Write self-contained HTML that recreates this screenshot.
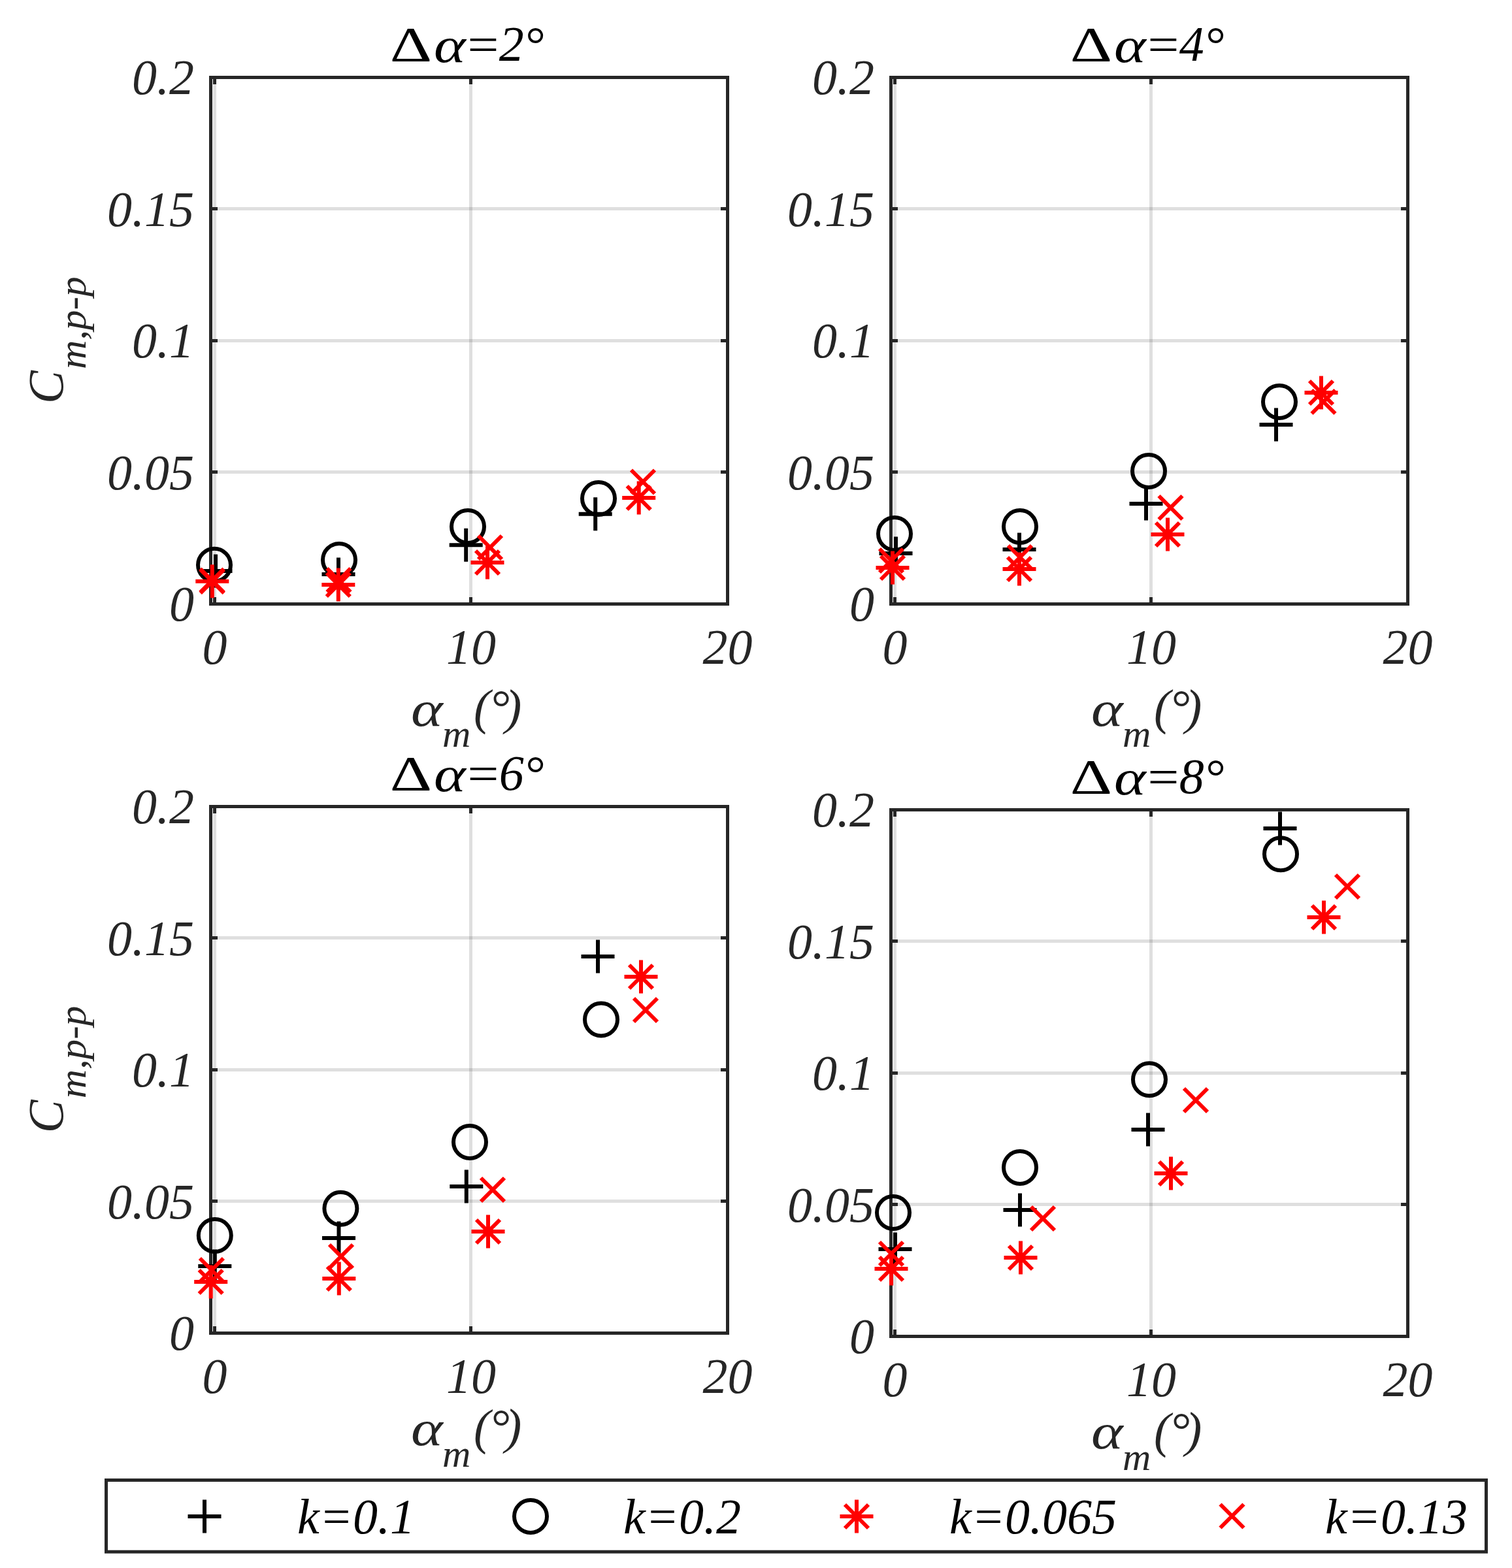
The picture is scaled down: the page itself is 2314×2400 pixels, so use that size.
<!DOCTYPE html><html><head><meta charset="utf-8"><title>Cm,p-p vs alpha_m</title><style>html,body{margin:0;padding:0;background:#fff;}svg{display:block;}</style></head><body><svg width="2314" height="2400" viewBox="0 0 2314 2400"><rect width="2314" height="2400" fill="#fff"/><g stroke="#262626" stroke-opacity="0.15" stroke-width="5"><line x1="328.5" y1="118.5" x2="328.5" y2="924.5"/><line x1="720.5" y1="118.5" x2="720.5" y2="924.5"/><line x1="322.5" y1="722.5" x2="1113.5" y2="722.5"/><line x1="322.5" y1="521.5" x2="1113.5" y2="521.5"/><line x1="322.5" y1="319.5" x2="1113.5" y2="319.5"/></g><path d="M328.5 924.5V914M328.5 118.5V129M720.5 924.5V914M720.5 118.5V129M322.5 722.5H333M1113.5 722.5H1103M322.5 521.5H333M1113.5 521.5H1103M322.5 319.5H333M1113.5 319.5H1103" stroke="#262626" stroke-width="5" fill="none"/><rect x="322.5" y="118.5" width="791" height="806" stroke="#262626" stroke-width="5" fill="none" stroke-linejoin="miter"/><g stroke="#262626" stroke-opacity="0.15" stroke-width="5"><line x1="1369.5" y1="118.5" x2="1369.5" y2="924.5"/><line x1="1761.5" y1="118.5" x2="1761.5" y2="924.5"/><line x1="1363.5" y1="722.5" x2="2154.5" y2="722.5"/><line x1="1363.5" y1="521.5" x2="2154.5" y2="521.5"/><line x1="1363.5" y1="319.5" x2="2154.5" y2="319.5"/></g><path d="M1369.5 924.5V914M1369.5 118.5V129M1761.5 924.5V914M1761.5 118.5V129M1363.5 722.5H1374M2154.5 722.5H2144M1363.5 521.5H1374M2154.5 521.5H2144M1363.5 319.5H1374M2154.5 319.5H2144" stroke="#262626" stroke-width="5" fill="none"/><rect x="1363.5" y="118.5" width="791" height="806" stroke="#262626" stroke-width="5" fill="none" stroke-linejoin="miter"/><g stroke="#262626" stroke-opacity="0.15" stroke-width="5"><line x1="328.5" y1="1234.5" x2="328.5" y2="2040.5"/><line x1="720.5" y1="1234.5" x2="720.5" y2="2040.5"/><line x1="322.5" y1="1838.5" x2="1113.5" y2="1838.5"/><line x1="322.5" y1="1637.5" x2="1113.5" y2="1637.5"/><line x1="322.5" y1="1435.5" x2="1113.5" y2="1435.5"/></g><path d="M328.5 2040.5V2030M328.5 1234.5V1245M720.5 2040.5V2030M720.5 1234.5V1245M322.5 1838.5H333M1113.5 1838.5H1103M322.5 1637.5H333M1113.5 1637.5H1103M322.5 1435.5H333M1113.5 1435.5H1103" stroke="#262626" stroke-width="5" fill="none"/><rect x="322.5" y="1234.5" width="791" height="806" stroke="#262626" stroke-width="5" fill="none" stroke-linejoin="miter"/><g stroke="#262626" stroke-opacity="0.15" stroke-width="5"><line x1="1369.5" y1="1239.5" x2="1369.5" y2="2045.5"/><line x1="1761.5" y1="1239.5" x2="1761.5" y2="2045.5"/><line x1="1363.5" y1="1843.5" x2="2154.5" y2="1843.5"/><line x1="1363.5" y1="1642.5" x2="2154.5" y2="1642.5"/><line x1="1363.5" y1="1440.5" x2="2154.5" y2="1440.5"/></g><path d="M1369.5 2045.5V2035M1369.5 1239.5V1250M1761.5 2045.5V2035M1761.5 1239.5V1250M1363.5 1843.5H1374M2154.5 1843.5H2144M1363.5 1642.5H1374M2154.5 1642.5H2144M1363.5 1440.5H1374M2154.5 1440.5H2144" stroke="#262626" stroke-width="5" fill="none"/><rect x="1363.5" y="1239.5" width="791" height="806" stroke="#262626" stroke-width="5" fill="none" stroke-linejoin="miter"/><g fill="none" stroke-width="6.0"><path d="M304.5 874H355.5M330 848.5V899.5" stroke="#000"/><path d="M492.5 879H543.5M518 853.5V904.5" stroke="#000"/><path d="M687.7 834.2H738.7M713.2 808.7V859.7" stroke="#000"/><path d="M885.7 786.8H936.7M911.2 761.3V812.3" stroke="#000"/><circle cx="328" cy="864.8" r="25.0" stroke="#000"/><circle cx="519" cy="857" r="25.0" stroke="#000"/><circle cx="716" cy="806" r="25.0" stroke="#000"/><circle cx="916" cy="763" r="25.0" stroke="#000"/><path d="M299.3 889.8H350.3M324.8 864.3V915.3M306.8 871.8L342.8 907.8M342.8 871.8L306.8 907.8" stroke="#f00"/><path d="M492.3 895H543.3M517.8 869.5V920.5M499.8 877L535.8 913M535.8 877L499.8 913" stroke="#f00"/><path d="M720.5 861H771.5M746 835.5V886.5M728 843L764 879M764 843L728 879" stroke="#f00"/><path d="M952.2 762H1003.2M977.7 736.5V787.5M959.7 744L995.7 780M995.7 744L959.7 780" stroke="#f00"/><path d="M306.5 870.5L342.5 906.5M342.5 870.5L306.5 906.5" stroke="#f00"/><path d="M500.5 870L536.5 906M536.5 870L500.5 906" stroke="#f00"/><path d="M732 820L768 856M768 820L732 856" stroke="#f00"/><path d="M966 719.5L1002 755.5M1002 719.5L966 755.5" stroke="#f00"/></g><g fill="none" stroke-width="6.0"><path d="M1345.5 847H1396.5M1371 821.5V872.5" stroke="#000"/><path d="M1534.5 841H1585.5M1560 815.5V866.5" stroke="#000"/><path d="M1728.5 771H1779.5M1754 745.5V796.5" stroke="#000"/><path d="M1927.5 650H1978.5M1953 624.5V675.5" stroke="#000"/><circle cx="1369" cy="817" r="25.0" stroke="#000"/><circle cx="1561" cy="806" r="25.0" stroke="#000"/><circle cx="1758" cy="721" r="25.0" stroke="#000"/><circle cx="1958" cy="615" r="25.0" stroke="#000"/><path d="M1340.5 869H1391.5M1366 843.5V894.5M1348 851L1384 887M1384 851L1348 887" stroke="#f00"/><path d="M1534.5 871H1585.5M1560 845.5V896.5M1542 853L1578 889M1578 853L1542 889" stroke="#f00"/><path d="M1761.5 818H1812.5M1787 792.5V843.5M1769 800L1805 836M1805 800L1769 836" stroke="#f00"/><path d="M1996.5 601H2047.5M2022 575.5V626.5M2004 583L2040 619M2040 583L2004 619" stroke="#f00"/><path d="M1346 840L1382 876M1382 840L1346 876" stroke="#f00"/><path d="M1543 835L1579 871M1579 835L1543 871" stroke="#f00"/><path d="M1773.5 759L1809.5 795M1809.5 759L1773.5 795" stroke="#f00"/><path d="M2007.5 597L2043.5 633M2043.5 597L2007.5 633" stroke="#f00"/></g><g fill="none" stroke-width="6.0"><path d="M303.3 1938H354.3M328.8 1912.5V1963.5" stroke="#000"/><path d="M493 1895H544M518.5 1869.5V1920.5" stroke="#000"/><path d="M688.3 1816H739.3M713.8 1790.5V1841.5" stroke="#000"/><path d="M889.5 1464H940.5M915 1438.5V1489.5" stroke="#000"/><circle cx="328.8" cy="1891" r="25.0" stroke="#000"/><circle cx="521.4" cy="1849.7" r="25.0" stroke="#000"/><circle cx="719" cy="1748" r="25.0" stroke="#000"/><circle cx="920" cy="1560.5" r="25.0" stroke="#000"/><path d="M297.2 1962H348.2M322.7 1936.5V1987.5M304.7 1944L340.7 1980M340.7 1944L304.7 1980" stroke="#f00"/><path d="M493.3 1957H544.3M518.8 1931.5V1982.5M500.8 1939L536.8 1975M536.8 1939L500.8 1975" stroke="#f00"/><path d="M721.5 1885H772.5M747 1859.5V1910.5M729 1867L765 1903M765 1867L729 1903" stroke="#f00"/><path d="M955.5 1495H1006.5M981 1469.5V1520.5M963 1477L999 1513M999 1477L963 1513" stroke="#f00"/><path d="M305.9 1926L341.9 1962M341.9 1926L305.9 1962" stroke="#f00"/><path d="M504 1905L540 1941M540 1905L504 1941" stroke="#f00"/><path d="M736 1803L772 1839M772 1803L736 1839" stroke="#f00"/><path d="M970 1528L1006 1564M1006 1528L970 1564" stroke="#f00"/></g><g fill="none" stroke-width="6.0"><path d="M1344.5 1912H1395.5M1370 1886.5V1937.5" stroke="#000"/><path d="M1535.5 1852H1586.5M1561 1826.5V1877.5" stroke="#000"/><path d="M1731.5 1729H1782.5M1757 1703.5V1754.5" stroke="#000"/><path d="M1933.5 1268H1984.5M1959 1242.5V1293.5" stroke="#000"/><circle cx="1367" cy="1856" r="25.0" stroke="#000"/><circle cx="1561" cy="1787" r="25.0" stroke="#000"/><circle cx="1759" cy="1652.3" r="25.0" stroke="#000"/><circle cx="1960" cy="1307.2" r="25.0" stroke="#000"/><path d="M1338.5 1942H1389.5M1364 1916.5V1967.5M1346 1924L1382 1960M1382 1924L1346 1960" stroke="#f00"/><path d="M1536.5 1925H1587.5M1562 1899.5V1950.5M1544 1907L1580 1943M1580 1907L1544 1943" stroke="#f00"/><path d="M1766.5 1796H1817.5M1792 1770.5V1821.5M1774 1778L1810 1814M1810 1778L1774 1814" stroke="#f00"/><path d="M2000.5 1404H2051.5M2026 1378.5V1429.5M2008 1386L2044 1422M2044 1386L2008 1422" stroke="#f00"/><path d="M1346 1901L1382 1937M1382 1901L1346 1937" stroke="#f00"/><path d="M1578 1847L1614 1883M1614 1847L1578 1883" stroke="#f00"/><path d="M1812 1666L1848 1702M1848 1666L1812 1702" stroke="#f00"/><path d="M2044 1339L2080 1375M2080 1339L2044 1375" stroke="#f00"/></g><g font-family="Liberation Serif, Times New Roman, serif" font-style="italic" font-size="76" fill="#262626" text-anchor="end"><text x="297" y="950">0</text><text x="297" y="748.5">0.05</text><text x="297" y="547">0.1</text><text x="297" y="345.5">0.15</text><text x="297" y="144">0.2</text></g><g font-family="Liberation Serif, Times New Roman, serif" font-style="italic" font-size="76" fill="#262626" text-anchor="end"><text x="1338" y="950">0</text><text x="1338" y="748.5">0.05</text><text x="1338" y="547">0.1</text><text x="1338" y="345.5">0.15</text><text x="1338" y="144">0.2</text></g><g font-family="Liberation Serif, Times New Roman, serif" font-style="italic" font-size="76" fill="#262626" text-anchor="end"><text x="297" y="2066">0</text><text x="297" y="1864.5">0.05</text><text x="297" y="1663">0.1</text><text x="297" y="1461.5">0.15</text><text x="297" y="1260">0.2</text></g><g font-family="Liberation Serif, Times New Roman, serif" font-style="italic" font-size="76" fill="#262626" text-anchor="end"><text x="1338" y="2071">0</text><text x="1338" y="1869.5">0.05</text><text x="1338" y="1668">0.1</text><text x="1338" y="1466.5">0.15</text><text x="1338" y="1265">0.2</text></g><g font-family="Liberation Serif, Times New Roman, serif" font-style="italic" font-size="76" fill="#262626" text-anchor="middle"><text x="328.5" y="1016">0</text><text x="721" y="1016">10</text><text x="1113.5" y="1016">20</text></g><g font-family="Liberation Serif, Times New Roman, serif" font-style="italic" font-size="76" fill="#262626" text-anchor="middle"><text x="1369.5" y="1016">0</text><text x="1762" y="1016">10</text><text x="2154.5" y="1016">20</text></g><g font-family="Liberation Serif, Times New Roman, serif" font-style="italic" font-size="76" fill="#262626" text-anchor="middle"><text x="328.5" y="2132">0</text><text x="721" y="2132">10</text><text x="1113.5" y="2132">20</text></g><g font-family="Liberation Serif, Times New Roman, serif" font-style="italic" font-size="76" fill="#262626" text-anchor="middle"><text x="1369.5" y="2137">0</text><text x="1762" y="2137">10</text><text x="2154.5" y="2137">20</text></g><g font-family="Liberation Serif, Times New Roman, serif" font-style="italic" font-size="76" fill="#000"><text transform="translate(596.8,93.5) scale(1.316,1)" font-style="normal">&#916;</text><text transform="translate(664,94.5) scale(1.22,1)">&#945;</text><text transform="translate(709.9,93.5) scale(1.12,1)">=</text><text x="763.7" y="93">2</text><text x="802" y="93.5">&#176;</text></g><g font-family="Liberation Serif, Times New Roman, serif" font-style="italic" font-size="76" fill="#000"><text transform="translate(1637.8,93.5) scale(1.316,1)" font-style="normal">&#916;</text><text transform="translate(1705,94.5) scale(1.22,1)">&#945;</text><text transform="translate(1750.9,93.5) scale(1.12,1)">=</text><text x="1804.7" y="93">4</text><text x="1843" y="93.5">&#176;</text></g><g font-family="Liberation Serif, Times New Roman, serif" font-style="italic" font-size="76" fill="#000"><text transform="translate(596.8,1209.5) scale(1.316,1)" font-style="normal">&#916;</text><text transform="translate(664,1210.5) scale(1.22,1)">&#945;</text><text transform="translate(709.9,1209.5) scale(1.12,1)">=</text><text x="763.7" y="1209">6</text><text x="802" y="1209.5">&#176;</text></g><g font-family="Liberation Serif, Times New Roman, serif" font-style="italic" font-size="76" fill="#000"><text transform="translate(1637.8,1214.5) scale(1.316,1)" font-style="normal">&#916;</text><text transform="translate(1705,1215.5) scale(1.22,1)">&#945;</text><text transform="translate(1750.9,1214.5) scale(1.12,1)">=</text><text x="1804.7" y="1214">8</text><text x="1843" y="1214.5">&#176;</text></g><g font-family="Liberation Serif, Times New Roman, serif" font-style="italic" font-size="76" fill="#262626"><text transform="translate(629,1111) scale(1.22,1)">&#945;</text><text x="677" y="1143.4" font-size="60">m</text><text x="725" y="1108.3">(</text><text x="749.4" y="1108.6">&#176;</text><text x="773" y="1108">)</text></g><g font-family="Liberation Serif, Times New Roman, serif" font-style="italic" font-size="76" fill="#262626"><text transform="translate(1670,1111) scale(1.22,1)">&#945;</text><text x="1718" y="1143.4" font-size="60">m</text><text x="1766" y="1108.3">(</text><text x="1790.4" y="1108.6">&#176;</text><text x="1814" y="1108">)</text></g><g font-family="Liberation Serif, Times New Roman, serif" font-style="italic" font-size="76" fill="#262626"><text transform="translate(629,2212.3) scale(1.22,1)">&#945;</text><text x="677" y="2244.7" font-size="60">m</text><text x="725" y="2209.6">(</text><text x="749.4" y="2209.9">&#176;</text><text x="773" y="2209.3">)</text></g><g font-family="Liberation Serif, Times New Roman, serif" font-style="italic" font-size="76" fill="#262626"><text transform="translate(1670,2217.3) scale(1.22,1)">&#945;</text><text x="1718" y="2249.7" font-size="60">m</text><text x="1766" y="2214.6">(</text><text x="1790.4" y="2214.9">&#176;</text><text x="1814" y="2214.3">)</text></g><g font-family="Liberation Serif, Times New Roman, serif" font-style="italic" font-size="76" fill="#262626" transform="translate(96.3,618) rotate(-90)"><text x="0" y="0">C</text><text transform="translate(53.1,35) scale(1.024,1)" font-size="60">m,p-p</text></g><g font-family="Liberation Serif, Times New Roman, serif" font-style="italic" font-size="76" fill="#262626" transform="translate(96.3,1734.3) rotate(-90)"><text x="0" y="0">C</text><text transform="translate(53.1,35) scale(1.024,1)" font-size="60">m,p-p</text></g><rect x="162.5" y="2265.5" width="2112" height="109.7" stroke="#262626" stroke-width="5" fill="none"/><g fill="none" stroke-width="6.0"><path d="M287.5 2321H338.5M313 2295.5V2346.5" stroke="#000"/><circle cx="812" cy="2321" r="25.0" stroke="#000"/><path d="M1285.5 2321H1336.5M1311 2295.5V2346.5M1293 2303L1329 2339M1329 2303L1293 2339" stroke="#f00"/><path d="M1867.5 2302.5L1903.5 2338.5M1903.5 2302.5L1867.5 2338.5" stroke="#f00"/></g><g font-family="Liberation Serif, Times New Roman, serif" font-style="italic" font-size="76" fill="#000"><text x="455" y="2347">k=0.1</text><text x="954" y="2347">k=0.2</text><text x="1453" y="2347">k=0.065</text><text x="2028" y="2347">k=0.13</text></g></svg></body></html>
